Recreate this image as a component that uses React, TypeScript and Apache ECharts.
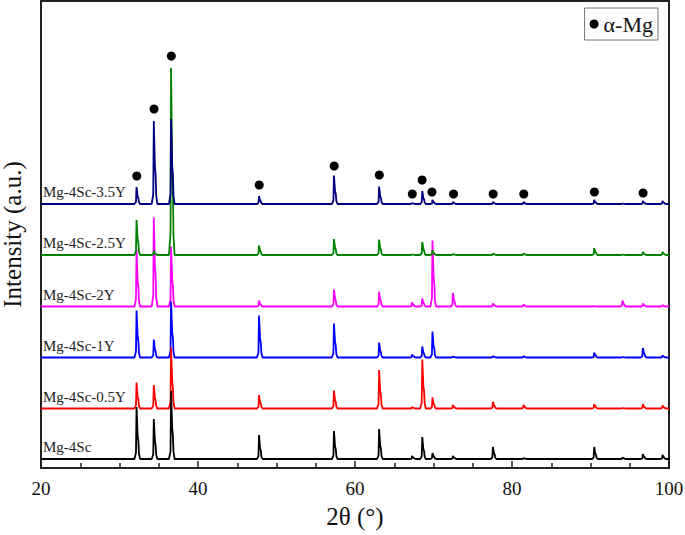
import React, { useEffect, useRef } from "react";
import * as echarts from "echarts";

// Peak positions (2θ, degrees) shared by all patterns
const PEAK_POS = [32.2, 34.4, 36.6, 47.8, 57.35, 63.1, 67.3, 68.6, 69.9, 72.5, 77.6, 81.5, 90.5, 94.1, 96.7, 99.2];

// Sample names (bottom to top)
const SAMPLES = ["Mg-4Sc", "Mg-4Sc-0.5Y", "Mg-4Sc-1Y", "Mg-4Sc-2Y", "Mg-4Sc-2.5Y", "Mg-4Sc-3.5Y"];
const COLORS = ["#000000", "#ff0000", "#0000ff", "#ff00ff", "#008000", "#000080"];

// Vertical offsets of each pattern (a.u.)
const OFFSETS = [9, 59.5, 110.5, 161.5, 213, 264];

// Peak intensities above baseline (a.u.), one per PEAK_POS
const I_MG4SC = [52, 40, 68, 24, 28, 30, 3, 22, 6, 3, 12, 1, 12, 1.5, 5, 4];
const I_05Y = [26, 23.5, 61, 13.5, 18, 38.5, 1.5, 49, 11, 3.5, 6.7, 3.5, 4.5, 0.5, 4.5, 3];
const I_1Y = [47, 18, 56, 42, 34, 15, 3, 11, 26, 1, 1.5, 1.5, 5, 0.5, 9.5, 2];
const I_2Y = [57, 89, 60, 6, 17, 15, 4, 8, 66, 13.5, 3, 2, 0.5, 6, 3, 1.5];
const I_25Y = [35, 4, 187, 9.5, 16, 15.5, 0.5, 13, 5, 1, 1.5, 1.5, 7, 0.5, 3, 3];
const I_35Y = [17, 83, 85, 8, 28.5, 17.5, 1, 13, 4, 2, 2, 2, 4, 0.5, 3, 3];
const INTENSITIES = [I_MG4SC, I_05Y, I_1Y, I_2Y, I_25Y, I_35Y];

// α-Mg markers (2θ, a.u.)
const MG_X = [32.2, 34.4, 36.6, 47.8, 57.35, 63.1, 67.3, 68.55, 69.8, 72.55, 77.6, 81.5, 90.5, 96.7];
const MG_Y = [292, 359, 412, 283, 302, 293, 274, 288, 276, 274, 274, 274, 276, 275];

const X_MIN = 20;
const X_MAX = 100;

// Shape of a single diffraction line: [Δ2θ, fraction of height]
const PROFILE = [
  [-0.3, 0],
  [-0.1, 0.12],
  [-0.03, 1],
  [0.05, 1],
  [0.11, 0.45],
  [0.2, 0.35],
  [0.28, 0.1],
  [0.42, 0],
];

const FONT = "Liberation Serif";

function buildPattern(heights: number[], base: number): number[][] {
  const pts: number[][] = [[X_MIN, base]];
  PEAK_POS.forEach((p, i) => {
    PROFILE.forEach(([dx, f]) => {
      pts.push([p + dx, base + f * heights[i]]);
    });
  });
  pts.push([X_MAX, base]);
  return pts;
}

export default function App() {
  const ref = useRef<HTMLDivElement>(null);

  useEffect(() => {
    if (!ref.current) return;
    const chart = echarts.init(ref.current, undefined, { renderer: "svg" });

    const drawOrder = [3, 4, 5, 2, 1, 0];
    const lineSeries = drawOrder.map((k) => ({
      type: "line",
      name: SAMPLES[k],
      data: buildPattern(INTENSITIES[k], OFFSETS[k]),
      showSymbol: false,
      symbol: "none",
      lineStyle: { color: COLORS[k], width: 1.8 },
      itemStyle: { color: COLORS[k] },
      silent: true,
      markPoint: {
        symbol: "circle",
        symbolSize: 0,
        silent: true,
        data: [
          {
            coord: [X_MIN, OFFSETS[k]],
            label: {
              show: true,
              formatter: SAMPLES[k],
              position: [2, -12],
              align: "left",
              verticalAlign: "middle",
              color: "#222",
              fontSize: 15,
              fontFamily: FONT,
            },
          },
        ],
      },
    }));

    const option: any = {
      animation: false,
      backgroundColor: "#fff",
      textStyle: { fontFamily: FONT },
      grid: {
        left: 41,
        right: 16,
        top: 1,
        bottom: 67,
        show: true,
        borderColor: "#222",
        borderWidth: 2,
        containLabel: false,
        outerBoundsMode: "none",
      },
      legend: {
        data: [{ name: "α-Mg", icon: "circle" }],
        right: 27,
        top: 8,
        orient: "vertical",
        borderColor: "#777",
        borderWidth: 1,
        borderRadius: 0,
        padding: [5, 5, 5, 5],
        itemWidth: 9,
        itemHeight: 9,
        textStyle: { fontSize: 22, fontFamily: FONT, color: "#111" },
      },
      xAxis: {
        type: "value",
        min: X_MIN,
        max: X_MAX,
        interval: 20,
        name: "2θ (°)",
        nameLocation: "middle",
        nameGap: 36,
        nameTextStyle: { fontSize: 25, fontFamily: FONT, color: "#111" },
        axisLine: { show: true, lineStyle: { color: "#222", width: 2 } },
        axisTick: { show: true, inside: true, length: 7, lineStyle: { color: "#222", width: 1.5 } },
        minorTick: { show: true, splitNumber: 4, length: 5, lineStyle: { color: "#222", width: 1.5 } },
        axisLabel: { fontSize: 19, fontFamily: FONT, color: "#111", margin: 11 },
        splitLine: { show: false },
      },
      yAxis: {
        type: "value",
        min: 0,
        max: 467,
        name: "Intensity (a.u.)",
        nameLocation: "middle",
        nameGap: 18,
        nameTextStyle: { fontSize: 25, lineHeight: 22, fontFamily: FONT, color: "#111" },
        axisLine: { show: true, lineStyle: { color: "#222", width: 2 } },
        axisTick: { show: false },
        axisLabel: { show: false },
        splitLine: { show: false },
      },
      series: [
        ...lineSeries,
        {
          type: "scatter",
          name: "α-Mg",
          data: MG_X.map((x, i) => [x, MG_Y[i]]),
          symbol: "circle",
          symbolSize: 9,
          itemStyle: { color: "#000", opacity: 1 },
          z: 10,
          silent: true,
        },
      ],
    };

    chart.setOption(option);
    return () => chart.dispose();
  }, []);

  return (
    <div
      ref={ref}
      style={{ position: "absolute", left: 0, top: 0, width: 685, height: 535 }}
    />
  );
}
